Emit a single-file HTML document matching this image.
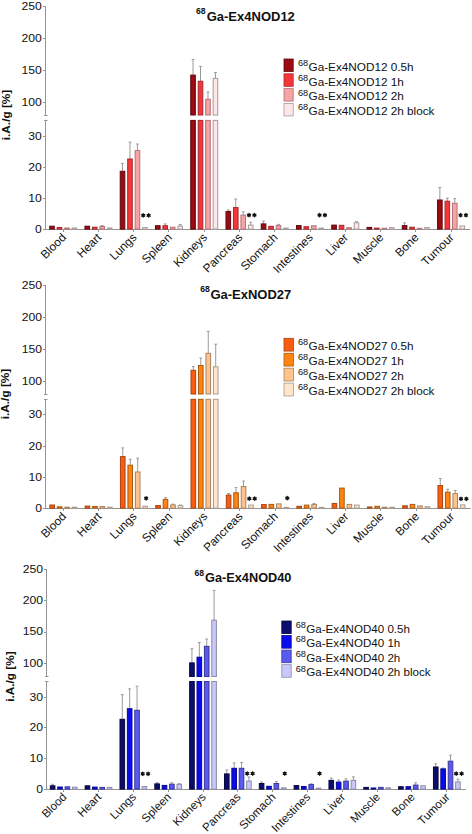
<!DOCTYPE html>
<html><head><meta charset="utf-8"><title>chart</title>
<style>
html,body{margin:0;padding:0;background:#fff;}
body{width:472px;height:834px;overflow:hidden;}
svg{display:block;}
text{font-family:"Liberation Sans", sans-serif;fill:#111;}
.tk{font-size:11.6px;}
.xl{font-size:11.8px;}
.st{font-size:13px;font-weight:bold;}
.ti{font-size:13px;font-weight:bold;}
.tsup{font-size:8.6px;font-weight:bold;}
.lg{font-size:11.2px;}
.lsup{font-size:9.6px;}
.yl{font-size:11.8px;font-weight:bold;}
</style></head>
<body>
<svg width="472" height="834" viewBox="0 0 472 834">
<rect width="472" height="834" fill="#fff"/>
<line x1="45.5" y1="6" x2="45.5" y2="115.5" stroke="#959595" stroke-width="1"/>
<line x1="45.5" y1="120.5" x2="45.5" y2="229.5" stroke="#959595" stroke-width="1"/>
<line x1="44" y1="115.5" x2="47.5" y2="115.5" stroke="#959595" stroke-width="1"/>
<line x1="44" y1="120.5" x2="47.5" y2="120.5" stroke="#959595" stroke-width="1"/>
<line x1="43" y1="102.5" x2="45.5" y2="102.5" stroke="#959595" stroke-width="1"/>
<text transform="translate(41.8 105.6) scale(1.05 1)" text-anchor="end" class="tk">100</text>
<line x1="43" y1="70.5" x2="45.5" y2="70.5" stroke="#959595" stroke-width="1"/>
<text transform="translate(41.8 73.73) scale(1.05 1)" text-anchor="end" class="tk">150</text>
<line x1="43" y1="38.5" x2="45.5" y2="38.5" stroke="#959595" stroke-width="1"/>
<text transform="translate(41.8 41.87) scale(1.05 1)" text-anchor="end" class="tk">200</text>
<line x1="43" y1="6.5" x2="45.5" y2="6.5" stroke="#959595" stroke-width="1"/>
<text transform="translate(41.8 10) scale(1.05 1)" text-anchor="end" class="tk">250</text>
<line x1="43" y1="229.5" x2="45.5" y2="229.5" stroke="#959595" stroke-width="1"/>
<text transform="translate(41.8 232.5) scale(1.05 1)" text-anchor="end" class="tk">0</text>
<line x1="43" y1="198.5" x2="45.5" y2="198.5" stroke="#959595" stroke-width="1"/>
<text transform="translate(41.8 201.6) scale(1.05 1)" text-anchor="end" class="tk">10</text>
<line x1="43" y1="167.5" x2="45.5" y2="167.5" stroke="#959595" stroke-width="1"/>
<text transform="translate(41.8 170.7) scale(1.05 1)" text-anchor="end" class="tk">20</text>
<line x1="43" y1="136.5" x2="45.5" y2="136.5" stroke="#959595" stroke-width="1"/>
<text transform="translate(41.8 139.8) scale(1.05 1)" text-anchor="end" class="tk">30</text>
<line x1="45" y1="229.5" x2="470" y2="229.5" stroke="#959595" stroke-width="1"/>
<line x1="63.5" y1="229.5" x2="63.5" y2="232" stroke="#959595" stroke-width="1"/>
<text x="66.8" y="238.1" text-anchor="end" class="xl" style="font-size:11.8px" transform="rotate(-45 66.8 238.1)">Blood</text>
<line x1="98.5" y1="229.5" x2="98.5" y2="232" stroke="#959595" stroke-width="1"/>
<text x="102.06" y="238.1" text-anchor="end" class="xl" style="font-size:11.8px" transform="rotate(-45 102.06 238.1)">Heart</text>
<line x1="133.5" y1="229.5" x2="133.5" y2="232" stroke="#959595" stroke-width="1"/>
<text x="137.32" y="238.1" text-anchor="end" class="xl" style="font-size:11.8px" transform="rotate(-45 137.32 238.1)">Lungs</text>
<line x1="168.5" y1="229.5" x2="168.5" y2="232" stroke="#959595" stroke-width="1"/>
<text x="172.58" y="238.1" text-anchor="end" class="xl" style="font-size:11.8px" transform="rotate(-45 172.58 238.1)">Spleen</text>
<line x1="204.5" y1="229.5" x2="204.5" y2="232" stroke="#959595" stroke-width="1"/>
<text x="207.84" y="238.1" text-anchor="end" class="xl" style="font-size:11.8px" transform="rotate(-45 207.84 238.1)">Kidneys</text>
<line x1="239.5" y1="229.5" x2="239.5" y2="232" stroke="#959595" stroke-width="1"/>
<text x="243.1" y="238.1" text-anchor="end" class="xl" style="font-size:11.8px" transform="rotate(-45 243.1 238.1)">Pancreas</text>
<line x1="274.5" y1="229.5" x2="274.5" y2="232" stroke="#959595" stroke-width="1"/>
<text x="278.36" y="238.1" text-anchor="end" class="xl" style="font-size:11.8px" transform="rotate(-45 278.36 238.1)">Stomach</text>
<line x1="310.5" y1="229.5" x2="310.5" y2="232" stroke="#959595" stroke-width="1"/>
<text x="313.62" y="238.1" text-anchor="end" class="xl" style="font-size:11.8px" transform="rotate(-45 313.62 238.1)">Intestines</text>
<line x1="345.5" y1="229.5" x2="345.5" y2="232" stroke="#959595" stroke-width="1"/>
<text x="348.88" y="238.1" text-anchor="end" class="xl" style="font-size:11.8px" transform="rotate(-45 348.88 238.1)">Liver</text>
<line x1="380.5" y1="229.5" x2="380.5" y2="232" stroke="#959595" stroke-width="1"/>
<text x="384.14" y="238.1" text-anchor="end" class="xl" style="font-size:11.8px" transform="rotate(-45 384.14 238.1)">Muscle</text>
<line x1="415.5" y1="229.5" x2="415.5" y2="232" stroke="#959595" stroke-width="1"/>
<text x="419.4" y="238.1" text-anchor="end" class="xl" style="font-size:11.8px" transform="rotate(-45 419.4 238.1)">Bone</text>
<line x1="451.5" y1="229.5" x2="451.5" y2="232" stroke="#959595" stroke-width="1"/>
<text x="454.66" y="238.1" text-anchor="end" class="xl" style="font-size:11.8px" transform="rotate(-45 454.66 238.1)">Tumour</text>
<rect x="49.7" y="226.2" width="4.6" height="2.9" fill="#9c0a12" stroke="#5e080c" stroke-width="1.0"/>
<rect x="57.17" y="227.5" width="4.6" height="1.6" fill="#f4363b" stroke="#a8282a" stroke-width="1.0"/>
<rect x="64.64" y="228" width="4.6" height="1.1" fill="#f7a2a4" stroke="#b07577" stroke-width="1.0"/>
<rect x="72.11" y="228" width="4.6" height="1.1" fill="#fde6e8" stroke="#a89a9b" stroke-width="1.0"/>
<rect x="84.96" y="226.2" width="4.6" height="2.9" fill="#9c0a12" stroke="#5e080c" stroke-width="1.0"/>
<rect x="92.43" y="227.2" width="4.6" height="1.9" fill="#f4363b" stroke="#a8282a" stroke-width="1.0"/>
<line x1="102.2" y1="225.5" x2="102.2" y2="226.5" stroke="#9a9a9a" stroke-width="1"/>
<line x1="100.8" y1="225.5" x2="103.6" y2="225.5" stroke="#9a9a9a" stroke-width="1"/>
<rect x="99.9" y="226.5" width="4.6" height="2.6" fill="#f7a2a4" stroke="#b07577" stroke-width="1.0"/>
<rect x="107.37" y="228" width="4.6" height="1.1" fill="#fde6e8" stroke="#a89a9b" stroke-width="1.0"/>
<line x1="122.52" y1="163.4" x2="122.52" y2="171.3" stroke="#9a9a9a" stroke-width="1"/>
<line x1="121.11" y1="163.4" x2="123.92" y2="163.4" stroke="#9a9a9a" stroke-width="1"/>
<rect x="120.22" y="171.3" width="4.6" height="57.8" fill="#9c0a12" stroke="#5e080c" stroke-width="1.0"/>
<line x1="129.98" y1="142.2" x2="129.98" y2="159" stroke="#9a9a9a" stroke-width="1"/>
<line x1="128.58" y1="142.2" x2="131.38" y2="142.2" stroke="#9a9a9a" stroke-width="1"/>
<rect x="127.68" y="159" width="4.6" height="70.1" fill="#f4363b" stroke="#a8282a" stroke-width="1.0"/>
<line x1="137.46" y1="144" x2="137.46" y2="150.5" stroke="#9a9a9a" stroke-width="1"/>
<line x1="136.06" y1="144" x2="138.86" y2="144" stroke="#9a9a9a" stroke-width="1"/>
<rect x="135.16" y="150.5" width="4.6" height="78.6" fill="#f7a2a4" stroke="#b07577" stroke-width="1.0"/>
<rect x="142.62" y="227.6" width="4.6" height="1.5" fill="#fde6e8" stroke="#a89a9b" stroke-width="1.0"/>
<rect x="155.47" y="225.7" width="4.6" height="3.4" fill="#9c0a12" stroke="#5e080c" stroke-width="1.0"/>
<line x1="165.25" y1="223.9" x2="165.25" y2="225.7" stroke="#9a9a9a" stroke-width="1"/>
<line x1="163.84" y1="223.9" x2="166.65" y2="223.9" stroke="#9a9a9a" stroke-width="1"/>
<rect x="162.94" y="225.7" width="4.6" height="3.4" fill="#f4363b" stroke="#a8282a" stroke-width="1.0"/>
<rect x="170.42" y="227.2" width="4.6" height="1.9" fill="#f7a2a4" stroke="#b07577" stroke-width="1.0"/>
<line x1="180.19" y1="224.5" x2="180.19" y2="226.1" stroke="#9a9a9a" stroke-width="1"/>
<line x1="178.79" y1="224.5" x2="181.59" y2="224.5" stroke="#9a9a9a" stroke-width="1"/>
<rect x="177.89" y="226.1" width="4.6" height="3" fill="#fde6e8" stroke="#a89a9b" stroke-width="1.0"/>
<line x1="193.03" y1="59.5" x2="193.03" y2="75.1" stroke="#9a9a9a" stroke-width="1"/>
<line x1="191.63" y1="59.5" x2="194.44" y2="59.5" stroke="#9a9a9a" stroke-width="1"/>
<rect x="190.73" y="120.4" width="4.6" height="108.7" fill="#9c0a12" stroke="#5e080c" stroke-width="1.0"/>
<rect x="190.73" y="75.1" width="4.6" height="39.9" fill="#9c0a12" stroke="#5e080c" stroke-width="1.0"/>
<line x1="200.5" y1="66.4" x2="200.5" y2="81.25" stroke="#9a9a9a" stroke-width="1"/>
<line x1="199.1" y1="66.4" x2="201.91" y2="66.4" stroke="#9a9a9a" stroke-width="1"/>
<rect x="198.2" y="120.4" width="4.6" height="108.7" fill="#f4363b" stroke="#a8282a" stroke-width="1.0"/>
<rect x="198.2" y="81.25" width="4.6" height="33.75" fill="#f4363b" stroke="#a8282a" stroke-width="1.0"/>
<line x1="207.98" y1="92" x2="207.98" y2="99.3" stroke="#9a9a9a" stroke-width="1"/>
<line x1="206.58" y1="92" x2="209.38" y2="92" stroke="#9a9a9a" stroke-width="1"/>
<rect x="205.68" y="120.4" width="4.6" height="108.7" fill="#f7a2a4" stroke="#b07577" stroke-width="1.0"/>
<rect x="205.68" y="99.3" width="4.6" height="15.7" fill="#f7a2a4" stroke="#b07577" stroke-width="1.0"/>
<line x1="215.45" y1="72.6" x2="215.45" y2="78.4" stroke="#9a9a9a" stroke-width="1"/>
<line x1="214.05" y1="72.6" x2="216.85" y2="72.6" stroke="#9a9a9a" stroke-width="1"/>
<rect x="213.15" y="120.4" width="4.6" height="108.7" fill="#fde6e8" stroke="#a89a9b" stroke-width="1.0"/>
<rect x="213.15" y="78.4" width="4.6" height="36.6" fill="#fde6e8" stroke="#a89a9b" stroke-width="1.0"/>
<line x1="228.29" y1="210" x2="228.29" y2="211.6" stroke="#9a9a9a" stroke-width="1"/>
<line x1="226.89" y1="210" x2="229.69" y2="210" stroke="#9a9a9a" stroke-width="1"/>
<rect x="225.99" y="211.6" width="4.6" height="17.5" fill="#9c0a12" stroke="#5e080c" stroke-width="1.0"/>
<line x1="235.76" y1="199" x2="235.76" y2="207.6" stroke="#9a9a9a" stroke-width="1"/>
<line x1="234.36" y1="199" x2="237.16" y2="199" stroke="#9a9a9a" stroke-width="1"/>
<rect x="233.46" y="207.6" width="4.6" height="21.5" fill="#f4363b" stroke="#a8282a" stroke-width="1.0"/>
<line x1="243.24" y1="211.8" x2="243.24" y2="215.1" stroke="#9a9a9a" stroke-width="1"/>
<line x1="241.84" y1="211.8" x2="244.64" y2="211.8" stroke="#9a9a9a" stroke-width="1"/>
<rect x="240.94" y="215.1" width="4.6" height="14" fill="#f7a2a4" stroke="#b07577" stroke-width="1.0"/>
<line x1="250.71" y1="222.3" x2="250.71" y2="225.1" stroke="#9a9a9a" stroke-width="1"/>
<line x1="249.31" y1="222.3" x2="252.11" y2="222.3" stroke="#9a9a9a" stroke-width="1"/>
<rect x="248.41" y="225.1" width="4.6" height="4" fill="#fde6e8" stroke="#a89a9b" stroke-width="1.0"/>
<line x1="263.56" y1="221.1" x2="263.56" y2="223.9" stroke="#9a9a9a" stroke-width="1"/>
<line x1="262.16" y1="221.1" x2="264.95" y2="221.1" stroke="#9a9a9a" stroke-width="1"/>
<rect x="261.25" y="223.9" width="4.6" height="5.2" fill="#9c0a12" stroke="#5e080c" stroke-width="1.0"/>
<rect x="268.72" y="226.3" width="4.6" height="2.8" fill="#f4363b" stroke="#a8282a" stroke-width="1.0"/>
<line x1="278.5" y1="224.4" x2="278.5" y2="225.6" stroke="#9a9a9a" stroke-width="1"/>
<line x1="277.1" y1="224.4" x2="279.89" y2="224.4" stroke="#9a9a9a" stroke-width="1"/>
<rect x="276.19" y="225.6" width="4.6" height="3.5" fill="#f7a2a4" stroke="#b07577" stroke-width="1.0"/>
<rect x="283.66" y="228.1" width="4.6" height="1" fill="#fde6e8" stroke="#a89a9b" stroke-width="1.0"/>
<rect x="296.51" y="225.6" width="4.6" height="3.5" fill="#9c0a12" stroke="#5e080c" stroke-width="1.0"/>
<rect x="303.98" y="226.7" width="4.6" height="2.4" fill="#f4363b" stroke="#a8282a" stroke-width="1.0"/>
<rect x="311.45" y="225.8" width="4.6" height="3.3" fill="#f7a2a4" stroke="#b07577" stroke-width="1.0"/>
<rect x="318.92" y="228.1" width="4.6" height="1" fill="#fde6e8" stroke="#a89a9b" stroke-width="1.0"/>
<rect x="331.77" y="225.1" width="4.6" height="4" fill="#9c0a12" stroke="#5e080c" stroke-width="1.0"/>
<rect x="339.24" y="225.3" width="4.6" height="3.8" fill="#f4363b" stroke="#a8282a" stroke-width="1.0"/>
<rect x="346.71" y="227.7" width="4.6" height="1.4" fill="#f7a2a4" stroke="#b07577" stroke-width="1.0"/>
<line x1="356.48" y1="221.6" x2="356.48" y2="222.8" stroke="#9a9a9a" stroke-width="1"/>
<line x1="355.08" y1="221.6" x2="357.88" y2="221.6" stroke="#9a9a9a" stroke-width="1"/>
<rect x="354.18" y="222.8" width="4.6" height="6.3" fill="#fde6e8" stroke="#a89a9b" stroke-width="1.0"/>
<rect x="367.03" y="227.4" width="4.6" height="1.7" fill="#9c0a12" stroke="#5e080c" stroke-width="1.0"/>
<rect x="374.5" y="228.1" width="4.6" height="1" fill="#f4363b" stroke="#a8282a" stroke-width="1.0"/>
<rect x="381.97" y="228.3" width="4.6" height="0.8" fill="#f7a2a4" stroke="#b07577" stroke-width="1.0"/>
<rect x="389.44" y="227.6" width="4.6" height="1.5" fill="#fde6e8" stroke="#a89a9b" stroke-width="1.0"/>
<line x1="404.59" y1="222.8" x2="404.59" y2="225.6" stroke="#9a9a9a" stroke-width="1"/>
<line x1="403.19" y1="222.8" x2="405.99" y2="222.8" stroke="#9a9a9a" stroke-width="1"/>
<rect x="402.29" y="225.6" width="4.6" height="3.5" fill="#9c0a12" stroke="#5e080c" stroke-width="1.0"/>
<rect x="409.76" y="227.2" width="4.6" height="1.9" fill="#f4363b" stroke="#a8282a" stroke-width="1.0"/>
<rect x="417.23" y="228.3" width="4.6" height="0.8" fill="#f7a2a4" stroke="#b07577" stroke-width="1.0"/>
<rect x="424.7" y="227.6" width="4.6" height="1.5" fill="#fde6e8" stroke="#a89a9b" stroke-width="1.0"/>
<line x1="439.85" y1="187.5" x2="439.85" y2="200" stroke="#9a9a9a" stroke-width="1"/>
<line x1="438.45" y1="187.5" x2="441.25" y2="187.5" stroke="#9a9a9a" stroke-width="1"/>
<rect x="437.55" y="200" width="4.6" height="29.1" fill="#9c0a12" stroke="#5e080c" stroke-width="1.0"/>
<line x1="447.32" y1="198.1" x2="447.32" y2="201.2" stroke="#9a9a9a" stroke-width="1"/>
<line x1="445.92" y1="198.1" x2="448.72" y2="198.1" stroke="#9a9a9a" stroke-width="1"/>
<rect x="445.02" y="201.2" width="4.6" height="27.9" fill="#f4363b" stroke="#a8282a" stroke-width="1.0"/>
<line x1="454.79" y1="198.6" x2="454.79" y2="203.2" stroke="#9a9a9a" stroke-width="1"/>
<line x1="453.39" y1="198.6" x2="456.19" y2="198.6" stroke="#9a9a9a" stroke-width="1"/>
<rect x="452.49" y="203.2" width="4.6" height="25.9" fill="#f7a2a4" stroke="#b07577" stroke-width="1.0"/>
<rect x="459.96" y="226" width="4.6" height="3.1" fill="#fde6e8" stroke="#a89a9b" stroke-width="1.0"/>
<path d="M143.23 213.75L143.23 217.05M141.8 214.58L144.65 216.22M144.65 214.58L141.8 216.22" stroke="#111" stroke-width="1.4" stroke-linecap="round"/>
<path d="M148.62 213.75L148.62 217.05M147.2 214.58L150.05 216.22M150.05 214.58L147.2 216.22" stroke="#111" stroke-width="1.4" stroke-linecap="round"/>
<path d="M249.01 213.45L249.01 216.75M247.58 214.28L250.43 215.92M250.43 214.28L247.58 215.92" stroke="#111" stroke-width="1.4" stroke-linecap="round"/>
<path d="M254.41 213.45L254.41 216.75M252.98 214.28L255.83 215.92M255.83 214.28L252.98 215.92" stroke="#111" stroke-width="1.4" stroke-linecap="round"/>
<path d="M319.52 213.45L319.52 216.75M318.1 214.28L320.95 215.92M320.95 214.28L318.1 215.92" stroke="#111" stroke-width="1.4" stroke-linecap="round"/>
<path d="M324.92 213.45L324.92 216.75M323.5 214.28L326.35 215.92M326.35 214.28L323.5 215.92" stroke="#111" stroke-width="1.4" stroke-linecap="round"/>
<path d="M460.56 213.55L460.56 216.85M459.14 214.38L461.99 216.02M461.99 214.38L459.14 216.02" stroke="#111" stroke-width="1.4" stroke-linecap="round"/>
<path d="M465.96 213.55L465.96 216.85M464.54 214.38L467.39 216.02M467.39 214.38L464.54 216.02" stroke="#111" stroke-width="1.4" stroke-linecap="round"/>
<text x="196.1" y="13.8" class="tsup">68</text>
<text x="206.7" y="21" class="ti" style="font-size:13px">Ga-Ex4NOD12</text>
<rect x="284" y="59" width="9.2" height="12.5" fill="#9c0a12" stroke="#5e080c" stroke-width="0.8"/>
<text transform="translate(297.9 65.9) scale(0.96 1)" class="lsup">68</text>
<text transform="translate(308.5 70.8) scale(1.05 1)" class="lg" style="font-size:11.2px">Ga-Ex4NOD12 0.5h</text>
<rect x="284" y="73.8" width="9.2" height="12.5" fill="#f4363b" stroke="#a8282a" stroke-width="0.8"/>
<text transform="translate(297.9 80.7) scale(0.96 1)" class="lsup">68</text>
<text transform="translate(308.5 85.6) scale(1.05 1)" class="lg" style="font-size:11.2px">Ga-Ex4NOD12 1h</text>
<rect x="284" y="88.6" width="9.2" height="12.5" fill="#f7a2a4" stroke="#b07577" stroke-width="0.8"/>
<text transform="translate(297.9 95.5) scale(0.96 1)" class="lsup">68</text>
<text transform="translate(308.5 100.4) scale(1.05 1)" class="lg" style="font-size:11.2px">Ga-Ex4NOD12 2h</text>
<rect x="284" y="103.4" width="9.2" height="12.5" fill="#fde6e8" stroke="#a89a9b" stroke-width="0.8"/>
<text transform="translate(297.9 110.3) scale(0.96 1)" class="lsup">68</text>
<text transform="translate(308.5 115.2) scale(1.05 1)" class="lg" style="font-size:11.2px">Ga-Ex4NOD12 2h block</text>
<text x="9.6" y="115" text-anchor="middle" class="yl" transform="rotate(-90 9.6 115)">i.A./g [%]</text>
<line x1="45.5" y1="285" x2="45.5" y2="394.5" stroke="#959595" stroke-width="1"/>
<line x1="45.5" y1="399.5" x2="45.5" y2="508.5" stroke="#959595" stroke-width="1"/>
<line x1="44" y1="394.5" x2="47.5" y2="394.5" stroke="#959595" stroke-width="1"/>
<line x1="44" y1="399.5" x2="47.5" y2="399.5" stroke="#959595" stroke-width="1"/>
<line x1="43" y1="381.5" x2="45.5" y2="381.5" stroke="#959595" stroke-width="1"/>
<text transform="translate(42 384.9) scale(1.05 1)" text-anchor="end" class="tk">100</text>
<line x1="43" y1="349.5" x2="45.5" y2="349.5" stroke="#959595" stroke-width="1"/>
<text transform="translate(42 352.93) scale(1.05 1)" text-anchor="end" class="tk">150</text>
<line x1="43" y1="317.5" x2="45.5" y2="317.5" stroke="#959595" stroke-width="1"/>
<text transform="translate(42 320.97) scale(1.05 1)" text-anchor="end" class="tk">200</text>
<line x1="43" y1="285.5" x2="45.5" y2="285.5" stroke="#959595" stroke-width="1"/>
<text transform="translate(42 289) scale(1.05 1)" text-anchor="end" class="tk">250</text>
<line x1="43" y1="508.5" x2="45.5" y2="508.5" stroke="#959595" stroke-width="1"/>
<text transform="translate(42 511.5) scale(1.05 1)" text-anchor="end" class="tk">0</text>
<line x1="43" y1="477.5" x2="45.5" y2="477.5" stroke="#959595" stroke-width="1"/>
<text transform="translate(42 480.5) scale(1.05 1)" text-anchor="end" class="tk">10</text>
<line x1="43" y1="446.5" x2="45.5" y2="446.5" stroke="#959595" stroke-width="1"/>
<text transform="translate(42 449.5) scale(1.05 1)" text-anchor="end" class="tk">20</text>
<line x1="43" y1="414.5" x2="45.5" y2="414.5" stroke="#959595" stroke-width="1"/>
<text transform="translate(42 417.8) scale(1.05 1)" text-anchor="end" class="tk">30</text>
<line x1="45" y1="508.5" x2="470.7" y2="508.5" stroke="#959595" stroke-width="1"/>
<line x1="63.5" y1="508.5" x2="63.5" y2="511" stroke="#959595" stroke-width="1"/>
<text x="67" y="517.1" text-anchor="end" class="xl" style="font-size:11.8px" transform="rotate(-45 67 517.1)">Blood</text>
<line x1="98.5" y1="508.5" x2="98.5" y2="511" stroke="#959595" stroke-width="1"/>
<text x="102.28" y="517.1" text-anchor="end" class="xl" style="font-size:11.8px" transform="rotate(-45 102.28 517.1)">Heart</text>
<line x1="133.5" y1="508.5" x2="133.5" y2="511" stroke="#959595" stroke-width="1"/>
<text x="137.56" y="517.1" text-anchor="end" class="xl" style="font-size:11.8px" transform="rotate(-45 137.56 517.1)">Lungs</text>
<line x1="169.5" y1="508.5" x2="169.5" y2="511" stroke="#959595" stroke-width="1"/>
<text x="172.84" y="517.1" text-anchor="end" class="xl" style="font-size:11.8px" transform="rotate(-45 172.84 517.1)">Spleen</text>
<line x1="204.5" y1="508.5" x2="204.5" y2="511" stroke="#959595" stroke-width="1"/>
<text x="208.12" y="517.1" text-anchor="end" class="xl" style="font-size:11.8px" transform="rotate(-45 208.12 517.1)">Kidneys</text>
<line x1="239.5" y1="508.5" x2="239.5" y2="511" stroke="#959595" stroke-width="1"/>
<text x="243.4" y="517.1" text-anchor="end" class="xl" style="font-size:11.8px" transform="rotate(-45 243.4 517.1)">Pancreas</text>
<line x1="275.5" y1="508.5" x2="275.5" y2="511" stroke="#959595" stroke-width="1"/>
<text x="278.68" y="517.1" text-anchor="end" class="xl" style="font-size:11.8px" transform="rotate(-45 278.68 517.1)">Stomach</text>
<line x1="310.5" y1="508.5" x2="310.5" y2="511" stroke="#959595" stroke-width="1"/>
<text x="313.96" y="517.1" text-anchor="end" class="xl" style="font-size:11.8px" transform="rotate(-45 313.96 517.1)">Intestines</text>
<line x1="345.5" y1="508.5" x2="345.5" y2="511" stroke="#959595" stroke-width="1"/>
<text x="349.24" y="517.1" text-anchor="end" class="xl" style="font-size:11.8px" transform="rotate(-45 349.24 517.1)">Liver</text>
<line x1="380.5" y1="508.5" x2="380.5" y2="511" stroke="#959595" stroke-width="1"/>
<text x="384.52" y="517.1" text-anchor="end" class="xl" style="font-size:11.8px" transform="rotate(-45 384.52 517.1)">Muscle</text>
<line x1="416.5" y1="508.5" x2="416.5" y2="511" stroke="#959595" stroke-width="1"/>
<text x="419.8" y="517.1" text-anchor="end" class="xl" style="font-size:11.8px" transform="rotate(-45 419.8 517.1)">Bone</text>
<line x1="451.5" y1="508.5" x2="451.5" y2="511" stroke="#959595" stroke-width="1"/>
<text x="455.08" y="517.1" text-anchor="end" class="xl" style="font-size:11.8px" transform="rotate(-45 455.08 517.1)">Tumour</text>
<rect x="49.89" y="505" width="4.6" height="3.1" fill="#fa5c10" stroke="#a84410" stroke-width="1.0"/>
<rect x="57.36" y="506.8" width="4.6" height="1.3" fill="#ff8412" stroke="#a85a10" stroke-width="1.0"/>
<rect x="64.84" y="507.2" width="4.6" height="0.9" fill="#ffc48e" stroke="#a88462" stroke-width="1.0"/>
<rect x="72.31" y="507.2" width="4.6" height="0.9" fill="#ffe5cd" stroke="#a89c8c" stroke-width="1.0"/>
<rect x="85.17" y="506.1" width="4.6" height="2" fill="#fa5c10" stroke="#a84410" stroke-width="1.0"/>
<rect x="92.64" y="506.5" width="4.6" height="1.6" fill="#ff8412" stroke="#a85a10" stroke-width="1.0"/>
<rect x="100.12" y="506.5" width="4.6" height="1.6" fill="#ffc48e" stroke="#a88462" stroke-width="1.0"/>
<rect x="107.59" y="507.2" width="4.6" height="0.9" fill="#ffe5cd" stroke="#a89c8c" stroke-width="1.0"/>
<line x1="122.75" y1="447.9" x2="122.75" y2="456.6" stroke="#9a9a9a" stroke-width="1"/>
<line x1="121.35" y1="447.9" x2="124.15" y2="447.9" stroke="#9a9a9a" stroke-width="1"/>
<rect x="120.45" y="456.6" width="4.6" height="51.5" fill="#fa5c10" stroke="#a84410" stroke-width="1.0"/>
<line x1="130.22" y1="459.3" x2="130.22" y2="465.2" stroke="#9a9a9a" stroke-width="1"/>
<line x1="128.82" y1="459.3" x2="131.62" y2="459.3" stroke="#9a9a9a" stroke-width="1"/>
<rect x="127.92" y="465.2" width="4.6" height="42.9" fill="#ff8412" stroke="#a85a10" stroke-width="1.0"/>
<line x1="137.7" y1="458.2" x2="137.7" y2="472" stroke="#9a9a9a" stroke-width="1"/>
<line x1="136.3" y1="458.2" x2="139.1" y2="458.2" stroke="#9a9a9a" stroke-width="1"/>
<rect x="135.4" y="472" width="4.6" height="36.1" fill="#ffc48e" stroke="#a88462" stroke-width="1.0"/>
<rect x="142.87" y="506.2" width="4.6" height="1.9" fill="#ffe5cd" stroke="#a89c8c" stroke-width="1.0"/>
<rect x="155.73" y="505.6" width="4.6" height="2.5" fill="#fa5c10" stroke="#a84410" stroke-width="1.0"/>
<line x1="165.5" y1="497.7" x2="165.5" y2="499.4" stroke="#9a9a9a" stroke-width="1"/>
<line x1="164.1" y1="497.7" x2="166.9" y2="497.7" stroke="#9a9a9a" stroke-width="1"/>
<rect x="163.2" y="499.4" width="4.6" height="8.7" fill="#ff8412" stroke="#a85a10" stroke-width="1.0"/>
<line x1="172.98" y1="504.1" x2="172.98" y2="504.9" stroke="#9a9a9a" stroke-width="1"/>
<line x1="171.58" y1="504.1" x2="174.38" y2="504.1" stroke="#9a9a9a" stroke-width="1"/>
<rect x="170.68" y="504.9" width="4.6" height="3.2" fill="#ffc48e" stroke="#a88462" stroke-width="1.0"/>
<line x1="180.45" y1="505" x2="180.45" y2="505.6" stroke="#9a9a9a" stroke-width="1"/>
<line x1="179.05" y1="505" x2="181.85" y2="505" stroke="#9a9a9a" stroke-width="1"/>
<rect x="178.15" y="505.6" width="4.6" height="2.5" fill="#ffe5cd" stroke="#a89c8c" stroke-width="1.0"/>
<line x1="193.31" y1="366.6" x2="193.31" y2="370.3" stroke="#9a9a9a" stroke-width="1"/>
<line x1="191.91" y1="366.6" x2="194.71" y2="366.6" stroke="#9a9a9a" stroke-width="1"/>
<rect x="191.01" y="399.3" width="4.6" height="108.8" fill="#fa5c10" stroke="#a84410" stroke-width="1.0"/>
<rect x="191.01" y="370.3" width="4.6" height="23.7" fill="#fa5c10" stroke="#a84410" stroke-width="1.0"/>
<line x1="200.78" y1="358" x2="200.78" y2="365.5" stroke="#9a9a9a" stroke-width="1"/>
<line x1="199.38" y1="358" x2="202.18" y2="358" stroke="#9a9a9a" stroke-width="1"/>
<rect x="198.48" y="399.3" width="4.6" height="108.8" fill="#ff8412" stroke="#a85a10" stroke-width="1.0"/>
<rect x="198.48" y="365.5" width="4.6" height="28.5" fill="#ff8412" stroke="#a85a10" stroke-width="1.0"/>
<line x1="208.26" y1="331.4" x2="208.26" y2="353.3" stroke="#9a9a9a" stroke-width="1"/>
<line x1="206.86" y1="331.4" x2="209.66" y2="331.4" stroke="#9a9a9a" stroke-width="1"/>
<rect x="205.96" y="399.3" width="4.6" height="108.8" fill="#ffc48e" stroke="#a88462" stroke-width="1.0"/>
<rect x="205.96" y="353.3" width="4.6" height="40.7" fill="#ffc48e" stroke="#a88462" stroke-width="1.0"/>
<line x1="215.73" y1="344.2" x2="215.73" y2="366.8" stroke="#9a9a9a" stroke-width="1"/>
<line x1="214.33" y1="344.2" x2="217.13" y2="344.2" stroke="#9a9a9a" stroke-width="1"/>
<rect x="213.43" y="399.3" width="4.6" height="108.8" fill="#ffe5cd" stroke="#a89c8c" stroke-width="1.0"/>
<rect x="213.43" y="366.8" width="4.6" height="27.2" fill="#ffe5cd" stroke="#a89c8c" stroke-width="1.0"/>
<line x1="228.59" y1="493.5" x2="228.59" y2="495.1" stroke="#9a9a9a" stroke-width="1"/>
<line x1="227.19" y1="493.5" x2="229.99" y2="493.5" stroke="#9a9a9a" stroke-width="1"/>
<rect x="226.29" y="495.1" width="4.6" height="13" fill="#fa5c10" stroke="#a84410" stroke-width="1.0"/>
<line x1="236.06" y1="487.6" x2="236.06" y2="492.8" stroke="#9a9a9a" stroke-width="1"/>
<line x1="234.66" y1="487.6" x2="237.46" y2="487.6" stroke="#9a9a9a" stroke-width="1"/>
<rect x="233.76" y="492.8" width="4.6" height="15.3" fill="#ff8412" stroke="#a85a10" stroke-width="1.0"/>
<line x1="243.54" y1="481.1" x2="243.54" y2="486.5" stroke="#9a9a9a" stroke-width="1"/>
<line x1="242.14" y1="481.1" x2="244.94" y2="481.1" stroke="#9a9a9a" stroke-width="1"/>
<rect x="241.24" y="486.5" width="4.6" height="21.6" fill="#ffc48e" stroke="#a88462" stroke-width="1.0"/>
<rect x="248.71" y="505.1" width="4.6" height="3" fill="#ffe5cd" stroke="#a89c8c" stroke-width="1.0"/>
<rect x="261.57" y="504.6" width="4.6" height="3.5" fill="#fa5c10" stroke="#a84410" stroke-width="1.0"/>
<rect x="269.04" y="504.4" width="4.6" height="3.7" fill="#ff8412" stroke="#a85a10" stroke-width="1.0"/>
<rect x="276.52" y="503.9" width="4.6" height="4.2" fill="#ffc48e" stroke="#a88462" stroke-width="1.0"/>
<rect x="283.99" y="507.4" width="4.6" height="0.7" fill="#ffe5cd" stroke="#a89c8c" stroke-width="1.0"/>
<rect x="296.85" y="506.3" width="4.6" height="1.8" fill="#fa5c10" stroke="#a84410" stroke-width="1.0"/>
<rect x="304.32" y="505.1" width="4.6" height="3" fill="#ff8412" stroke="#a85a10" stroke-width="1.0"/>
<line x1="314.1" y1="503.6" x2="314.1" y2="504.4" stroke="#9a9a9a" stroke-width="1"/>
<line x1="312.7" y1="503.6" x2="315.5" y2="503.6" stroke="#9a9a9a" stroke-width="1"/>
<rect x="311.8" y="504.4" width="4.6" height="3.7" fill="#ffc48e" stroke="#a88462" stroke-width="1.0"/>
<rect x="319.27" y="507.4" width="4.6" height="0.7" fill="#ffe5cd" stroke="#a89c8c" stroke-width="1.0"/>
<rect x="332.13" y="503.5" width="4.6" height="4.6" fill="#fa5c10" stroke="#a84410" stroke-width="1.0"/>
<rect x="339.6" y="488.1" width="4.6" height="20" fill="#ff8412" stroke="#a85a10" stroke-width="1.0"/>
<rect x="347.08" y="504.4" width="4.6" height="3.7" fill="#ffc48e" stroke="#a88462" stroke-width="1.0"/>
<rect x="354.55" y="505.1" width="4.6" height="3" fill="#ffe5cd" stroke="#a89c8c" stroke-width="1.0"/>
<rect x="367.41" y="507" width="4.6" height="1.1" fill="#fa5c10" stroke="#a84410" stroke-width="1.0"/>
<rect x="374.88" y="506.3" width="4.6" height="1.8" fill="#ff8412" stroke="#a85a10" stroke-width="1.0"/>
<rect x="382.36" y="507.2" width="4.6" height="0.9" fill="#ffc48e" stroke="#a88462" stroke-width="1.0"/>
<rect x="389.83" y="507.2" width="4.6" height="0.9" fill="#ffe5cd" stroke="#a89c8c" stroke-width="1.0"/>
<rect x="402.69" y="505.8" width="4.6" height="2.3" fill="#fa5c10" stroke="#a84410" stroke-width="1.0"/>
<rect x="410.16" y="504.4" width="4.6" height="3.7" fill="#ff8412" stroke="#a85a10" stroke-width="1.0"/>
<rect x="417.64" y="505.9" width="4.6" height="2.2" fill="#ffc48e" stroke="#a88462" stroke-width="1.0"/>
<rect x="425.11" y="506.7" width="4.6" height="1.4" fill="#ffe5cd" stroke="#a89c8c" stroke-width="1.0"/>
<line x1="440.27" y1="478.5" x2="440.27" y2="485.6" stroke="#9a9a9a" stroke-width="1"/>
<line x1="438.87" y1="478.5" x2="441.67" y2="478.5" stroke="#9a9a9a" stroke-width="1"/>
<rect x="437.97" y="485.6" width="4.6" height="22.5" fill="#fa5c10" stroke="#a84410" stroke-width="1.0"/>
<line x1="447.74" y1="489.2" x2="447.74" y2="492.2" stroke="#9a9a9a" stroke-width="1"/>
<line x1="446.34" y1="489.2" x2="449.14" y2="489.2" stroke="#9a9a9a" stroke-width="1"/>
<rect x="445.44" y="492.2" width="4.6" height="15.9" fill="#ff8412" stroke="#a85a10" stroke-width="1.0"/>
<line x1="455.22" y1="490.5" x2="455.22" y2="493.6" stroke="#9a9a9a" stroke-width="1"/>
<line x1="453.82" y1="490.5" x2="456.62" y2="490.5" stroke="#9a9a9a" stroke-width="1"/>
<rect x="452.92" y="493.6" width="4.6" height="14.5" fill="#ffc48e" stroke="#a88462" stroke-width="1.0"/>
<rect x="460.39" y="504.9" width="4.6" height="3.2" fill="#ffe5cd" stroke="#a89c8c" stroke-width="1.0"/>
<path d="M146.17 496.65L146.17 499.95M144.74 497.48L147.6 499.12M147.6 497.48L144.74 499.12" stroke="#111" stroke-width="1.4" stroke-linecap="round"/>
<path d="M249.31 496.95L249.31 500.25M247.88 497.78L250.74 499.43M250.74 497.78L247.88 499.43" stroke="#111" stroke-width="1.4" stroke-linecap="round"/>
<path d="M254.71 496.95L254.71 500.25M253.28 497.78L256.14 499.43M256.14 497.78L253.28 499.43" stroke="#111" stroke-width="1.4" stroke-linecap="round"/>
<path d="M287.29 496.45L287.29 499.75M285.86 497.28L288.72 498.93M288.72 497.28L285.86 498.93" stroke="#111" stroke-width="1.4" stroke-linecap="round"/>
<path d="M460.99 497.15L460.99 500.45M459.56 497.98L462.42 499.62M462.42 497.98L459.56 499.62" stroke="#111" stroke-width="1.4" stroke-linecap="round"/>
<path d="M466.39 497.15L466.39 500.45M464.96 497.98L467.82 499.62M467.82 497.98L464.96 499.62" stroke="#111" stroke-width="1.4" stroke-linecap="round"/>
<text x="200.3" y="291.7" class="tsup">68</text>
<text x="210.4" y="298.9" class="ti" style="font-size:13px">Ga-ExNOD27</text>
<rect x="284" y="338.3" width="9.4" height="12.8" fill="#fa5c10" stroke="#a84410" stroke-width="0.8"/>
<text transform="translate(297.9 345.2) scale(0.96 1)" class="lsup">68</text>
<text transform="translate(308.5 350.1) scale(1.05 1)" class="lg" style="font-size:11.2px">Ga-Ex4NOD27 0.5h</text>
<rect x="284" y="353.25" width="9.4" height="12.8" fill="#ff8412" stroke="#a85a10" stroke-width="0.8"/>
<text transform="translate(297.9 360.15) scale(0.96 1)" class="lsup">68</text>
<text transform="translate(308.5 365.05) scale(1.05 1)" class="lg" style="font-size:11.2px">Ga-Ex4NOD27 1h</text>
<rect x="284" y="368.2" width="9.4" height="12.8" fill="#ffc48e" stroke="#a88462" stroke-width="0.8"/>
<text transform="translate(297.9 375.1) scale(0.96 1)" class="lsup">68</text>
<text transform="translate(308.5 380) scale(1.05 1)" class="lg" style="font-size:11.2px">Ga-Ex4NOD27 2h</text>
<rect x="284" y="383.15" width="9.4" height="12.8" fill="#ffe5cd" stroke="#a89c8c" stroke-width="0.8"/>
<text transform="translate(297.9 390.05) scale(0.96 1)" class="lsup">68</text>
<text transform="translate(308.5 394.95) scale(1.05 1)" class="lg" style="font-size:11.2px">Ga-Ex4NOD27 2h block</text>
<text x="9" y="394" text-anchor="middle" class="yl" transform="rotate(-90 9 394)">i.A./g [%]</text>
<line x1="46.5" y1="569" x2="46.5" y2="676.5" stroke="#959595" stroke-width="1"/>
<line x1="46.5" y1="681.5" x2="46.5" y2="789.5" stroke="#959595" stroke-width="1"/>
<line x1="45" y1="676.5" x2="48.5" y2="676.5" stroke="#959595" stroke-width="1"/>
<line x1="45" y1="681.5" x2="48.5" y2="681.5" stroke="#959595" stroke-width="1"/>
<line x1="44" y1="663.5" x2="46.5" y2="663.5" stroke="#959595" stroke-width="1"/>
<text transform="translate(43 666.7) scale(1.05 1)" text-anchor="end" class="tk">100</text>
<line x1="44" y1="632.5" x2="46.5" y2="632.5" stroke="#959595" stroke-width="1"/>
<text transform="translate(43 635.43) scale(1.05 1)" text-anchor="end" class="tk">150</text>
<line x1="44" y1="600.5" x2="46.5" y2="600.5" stroke="#959595" stroke-width="1"/>
<text transform="translate(43 604.17) scale(1.05 1)" text-anchor="end" class="tk">200</text>
<line x1="44" y1="569.5" x2="46.5" y2="569.5" stroke="#959595" stroke-width="1"/>
<text transform="translate(43 572.9) scale(1.05 1)" text-anchor="end" class="tk">250</text>
<line x1="44" y1="789.5" x2="46.5" y2="789.5" stroke="#959595" stroke-width="1"/>
<text transform="translate(43 792.5) scale(1.05 1)" text-anchor="end" class="tk">0</text>
<line x1="44" y1="758.5" x2="46.5" y2="758.5" stroke="#959595" stroke-width="1"/>
<text transform="translate(43 761.9) scale(1.05 1)" text-anchor="end" class="tk">10</text>
<line x1="44" y1="727.5" x2="46.5" y2="727.5" stroke="#959595" stroke-width="1"/>
<text transform="translate(43 731.3) scale(1.05 1)" text-anchor="end" class="tk">20</text>
<line x1="44" y1="697.5" x2="46.5" y2="697.5" stroke="#959595" stroke-width="1"/>
<text transform="translate(43 700.7) scale(1.05 1)" text-anchor="end" class="tk">30</text>
<line x1="46" y1="789.5" x2="465.7" y2="789.5" stroke="#959595" stroke-width="1"/>
<line x1="63.5" y1="789.5" x2="63.5" y2="792" stroke="#959595" stroke-width="1"/>
<text x="67.3" y="797.7" text-anchor="end" class="xl" style="font-size:11.55px" transform="rotate(-45 67.3 797.7)">Blood</text>
<line x1="98.5" y1="789.5" x2="98.5" y2="792" stroke="#959595" stroke-width="1"/>
<text x="102.13" y="797.7" text-anchor="end" class="xl" style="font-size:11.55px" transform="rotate(-45 102.13 797.7)">Heart</text>
<line x1="133.5" y1="789.5" x2="133.5" y2="792" stroke="#959595" stroke-width="1"/>
<text x="136.96" y="797.7" text-anchor="end" class="xl" style="font-size:11.55px" transform="rotate(-45 136.96 797.7)">Lungs</text>
<line x1="168.5" y1="789.5" x2="168.5" y2="792" stroke="#959595" stroke-width="1"/>
<text x="171.79" y="797.7" text-anchor="end" class="xl" style="font-size:11.55px" transform="rotate(-45 171.79 797.7)">Spleen</text>
<line x1="203.5" y1="789.5" x2="203.5" y2="792" stroke="#959595" stroke-width="1"/>
<text x="206.62" y="797.7" text-anchor="end" class="xl" style="font-size:11.55px" transform="rotate(-45 206.62 797.7)">Kidneys</text>
<line x1="237.5" y1="789.5" x2="237.5" y2="792" stroke="#959595" stroke-width="1"/>
<text x="241.45" y="797.7" text-anchor="end" class="xl" style="font-size:11.55px" transform="rotate(-45 241.45 797.7)">Pancreas</text>
<line x1="272.5" y1="789.5" x2="272.5" y2="792" stroke="#959595" stroke-width="1"/>
<text x="276.28" y="797.7" text-anchor="end" class="xl" style="font-size:11.55px" transform="rotate(-45 276.28 797.7)">Stomach</text>
<line x1="307.5" y1="789.5" x2="307.5" y2="792" stroke="#959595" stroke-width="1"/>
<text x="311.11" y="797.7" text-anchor="end" class="xl" style="font-size:11.55px" transform="rotate(-45 311.11 797.7)">Intestines</text>
<line x1="342.5" y1="789.5" x2="342.5" y2="792" stroke="#959595" stroke-width="1"/>
<text x="345.94" y="797.7" text-anchor="end" class="xl" style="font-size:11.55px" transform="rotate(-45 345.94 797.7)">Liver</text>
<line x1="377.5" y1="789.5" x2="377.5" y2="792" stroke="#959595" stroke-width="1"/>
<text x="380.77" y="797.7" text-anchor="end" class="xl" style="font-size:11.55px" transform="rotate(-45 380.77 797.7)">Muscle</text>
<line x1="411.5" y1="789.5" x2="411.5" y2="792" stroke="#959595" stroke-width="1"/>
<text x="415.6" y="797.7" text-anchor="end" class="xl" style="font-size:11.55px" transform="rotate(-45 415.6 797.7)">Bone</text>
<line x1="446.5" y1="789.5" x2="446.5" y2="792" stroke="#959595" stroke-width="1"/>
<text x="450.43" y="797.7" text-anchor="end" class="xl" style="font-size:11.55px" transform="rotate(-45 450.43 797.7)">Tumour</text>
<line x1="52.63" y1="784.3" x2="52.63" y2="785.8" stroke="#9a9a9a" stroke-width="1"/>
<line x1="51.23" y1="784.3" x2="54.03" y2="784.3" stroke="#9a9a9a" stroke-width="1"/>
<rect x="50.33" y="785.8" width="4.6" height="3.3" fill="#0d0d6e" stroke="#06063e" stroke-width="1.0"/>
<rect x="57.71" y="787" width="4.6" height="2.1" fill="#0b0bf0" stroke="#07078e" stroke-width="1.0"/>
<rect x="65.09" y="786.8" width="4.6" height="2.3" fill="#5a5af0" stroke="#38389a" stroke-width="1.0"/>
<rect x="72.47" y="787.2" width="4.6" height="1.9" fill="#c8c8fa" stroke="#8c8ca6" stroke-width="1.0"/>
<rect x="85.16" y="785.8" width="4.6" height="3.3" fill="#0d0d6e" stroke="#06063e" stroke-width="1.0"/>
<rect x="92.54" y="787.1" width="4.6" height="2" fill="#0b0bf0" stroke="#07078e" stroke-width="1.0"/>
<rect x="99.92" y="787.4" width="4.6" height="1.7" fill="#5a5af0" stroke="#38389a" stroke-width="1.0"/>
<rect x="107.3" y="787.4" width="4.6" height="1.7" fill="#c8c8fa" stroke="#8c8ca6" stroke-width="1.0"/>
<line x1="122.29" y1="694.6" x2="122.29" y2="719.3" stroke="#9a9a9a" stroke-width="1"/>
<line x1="120.89" y1="694.6" x2="123.69" y2="694.6" stroke="#9a9a9a" stroke-width="1"/>
<rect x="119.99" y="719.3" width="4.6" height="69.8" fill="#0d0d6e" stroke="#06063e" stroke-width="1.0"/>
<line x1="129.67" y1="688.9" x2="129.67" y2="708.7" stroke="#9a9a9a" stroke-width="1"/>
<line x1="128.27" y1="688.9" x2="131.07" y2="688.9" stroke="#9a9a9a" stroke-width="1"/>
<rect x="127.37" y="708.7" width="4.6" height="80.4" fill="#0b0bf0" stroke="#07078e" stroke-width="1.0"/>
<line x1="137.05" y1="686.2" x2="137.05" y2="710.3" stroke="#9a9a9a" stroke-width="1"/>
<line x1="135.65" y1="686.2" x2="138.45" y2="686.2" stroke="#9a9a9a" stroke-width="1"/>
<rect x="134.75" y="710.3" width="4.6" height="78.8" fill="#5a5af0" stroke="#38389a" stroke-width="1.0"/>
<rect x="142.13" y="786.6" width="4.6" height="2.5" fill="#c8c8fa" stroke="#8c8ca6" stroke-width="1.0"/>
<line x1="157.12" y1="782.7" x2="157.12" y2="783.9" stroke="#9a9a9a" stroke-width="1"/>
<line x1="155.72" y1="782.7" x2="158.52" y2="782.7" stroke="#9a9a9a" stroke-width="1"/>
<rect x="154.82" y="783.9" width="4.6" height="5.2" fill="#0d0d6e" stroke="#06063e" stroke-width="1.0"/>
<rect x="162.2" y="785.4" width="4.6" height="3.7" fill="#0b0bf0" stroke="#07078e" stroke-width="1.0"/>
<line x1="171.88" y1="782.8" x2="171.88" y2="784.2" stroke="#9a9a9a" stroke-width="1"/>
<line x1="170.48" y1="782.8" x2="173.28" y2="782.8" stroke="#9a9a9a" stroke-width="1"/>
<rect x="169.58" y="784.2" width="4.6" height="4.9" fill="#5a5af0" stroke="#38389a" stroke-width="1.0"/>
<line x1="179.26" y1="783.6" x2="179.26" y2="784.4" stroke="#9a9a9a" stroke-width="1"/>
<line x1="177.86" y1="783.6" x2="180.66" y2="783.6" stroke="#9a9a9a" stroke-width="1"/>
<rect x="176.96" y="784.4" width="4.6" height="4.7" fill="#c8c8fa" stroke="#8c8ca6" stroke-width="1.0"/>
<line x1="191.95" y1="648.7" x2="191.95" y2="662.9" stroke="#9a9a9a" stroke-width="1"/>
<line x1="190.55" y1="648.7" x2="193.35" y2="648.7" stroke="#9a9a9a" stroke-width="1"/>
<rect x="189.65" y="681.5" width="4.6" height="107.6" fill="#0d0d6e" stroke="#06063e" stroke-width="1.0"/>
<rect x="189.65" y="662.9" width="4.6" height="13.6" fill="#0d0d6e" stroke="#06063e" stroke-width="1.0"/>
<line x1="199.33" y1="642.5" x2="199.33" y2="657.2" stroke="#9a9a9a" stroke-width="1"/>
<line x1="197.93" y1="642.5" x2="200.73" y2="642.5" stroke="#9a9a9a" stroke-width="1"/>
<rect x="197.03" y="681.5" width="4.6" height="107.6" fill="#0b0bf0" stroke="#07078e" stroke-width="1.0"/>
<rect x="197.03" y="657.2" width="4.6" height="19.3" fill="#0b0bf0" stroke="#07078e" stroke-width="1.0"/>
<line x1="206.71" y1="639" x2="206.71" y2="646.3" stroke="#9a9a9a" stroke-width="1"/>
<line x1="205.31" y1="639" x2="208.11" y2="639" stroke="#9a9a9a" stroke-width="1"/>
<rect x="204.41" y="681.5" width="4.6" height="107.6" fill="#5a5af0" stroke="#38389a" stroke-width="1.0"/>
<rect x="204.41" y="646.3" width="4.6" height="30.2" fill="#5a5af0" stroke="#38389a" stroke-width="1.0"/>
<line x1="214.09" y1="590.4" x2="214.09" y2="620.2" stroke="#9a9a9a" stroke-width="1"/>
<line x1="212.69" y1="590.4" x2="215.49" y2="590.4" stroke="#9a9a9a" stroke-width="1"/>
<rect x="211.79" y="681.5" width="4.6" height="107.6" fill="#c8c8fa" stroke="#8c8ca6" stroke-width="1.0"/>
<rect x="211.79" y="620.2" width="4.6" height="56.3" fill="#c8c8fa" stroke="#8c8ca6" stroke-width="1.0"/>
<line x1="226.78" y1="770" x2="226.78" y2="773.9" stroke="#9a9a9a" stroke-width="1"/>
<line x1="225.38" y1="770" x2="228.18" y2="770" stroke="#9a9a9a" stroke-width="1"/>
<rect x="224.48" y="773.9" width="4.6" height="15.2" fill="#0d0d6e" stroke="#06063e" stroke-width="1.0"/>
<line x1="234.16" y1="763" x2="234.16" y2="768.3" stroke="#9a9a9a" stroke-width="1"/>
<line x1="232.76" y1="763" x2="235.56" y2="763" stroke="#9a9a9a" stroke-width="1"/>
<rect x="231.86" y="768.3" width="4.6" height="20.8" fill="#0b0bf0" stroke="#07078e" stroke-width="1.0"/>
<line x1="241.54" y1="762.5" x2="241.54" y2="768.3" stroke="#9a9a9a" stroke-width="1"/>
<line x1="240.14" y1="762.5" x2="242.94" y2="762.5" stroke="#9a9a9a" stroke-width="1"/>
<rect x="239.24" y="768.3" width="4.6" height="20.8" fill="#5a5af0" stroke="#38389a" stroke-width="1.0"/>
<line x1="248.92" y1="777" x2="248.92" y2="781.1" stroke="#9a9a9a" stroke-width="1"/>
<line x1="247.52" y1="777" x2="250.32" y2="777" stroke="#9a9a9a" stroke-width="1"/>
<rect x="246.62" y="781.1" width="4.6" height="8" fill="#c8c8fa" stroke="#8c8ca6" stroke-width="1.0"/>
<line x1="261.61" y1="782" x2="261.61" y2="783.5" stroke="#9a9a9a" stroke-width="1"/>
<line x1="260.21" y1="782" x2="263.01" y2="782" stroke="#9a9a9a" stroke-width="1"/>
<rect x="259.31" y="783.5" width="4.6" height="5.6" fill="#0d0d6e" stroke="#06063e" stroke-width="1.0"/>
<rect x="266.69" y="786.3" width="4.6" height="2.8" fill="#0b0bf0" stroke="#07078e" stroke-width="1.0"/>
<line x1="276.37" y1="781.6" x2="276.37" y2="783.5" stroke="#9a9a9a" stroke-width="1"/>
<line x1="274.97" y1="781.6" x2="277.77" y2="781.6" stroke="#9a9a9a" stroke-width="1"/>
<rect x="274.07" y="783.5" width="4.6" height="5.6" fill="#5a5af0" stroke="#38389a" stroke-width="1.0"/>
<rect x="281.45" y="787.9" width="4.6" height="1.2" fill="#c8c8fa" stroke="#8c8ca6" stroke-width="1.0"/>
<rect x="294.14" y="785.6" width="4.6" height="3.5" fill="#0d0d6e" stroke="#06063e" stroke-width="1.0"/>
<rect x="301.52" y="786.5" width="4.6" height="2.6" fill="#0b0bf0" stroke="#07078e" stroke-width="1.0"/>
<line x1="311.2" y1="783.8" x2="311.2" y2="784.6" stroke="#9a9a9a" stroke-width="1"/>
<line x1="309.8" y1="783.8" x2="312.6" y2="783.8" stroke="#9a9a9a" stroke-width="1"/>
<rect x="308.9" y="784.6" width="4.6" height="4.5" fill="#5a5af0" stroke="#38389a" stroke-width="1.0"/>
<rect x="316.28" y="788.2" width="4.6" height="0.9" fill="#c8c8fa" stroke="#8c8ca6" stroke-width="1.0"/>
<line x1="331.27" y1="778.1" x2="331.27" y2="780.4" stroke="#9a9a9a" stroke-width="1"/>
<line x1="329.87" y1="778.1" x2="332.67" y2="778.1" stroke="#9a9a9a" stroke-width="1"/>
<rect x="328.97" y="780.4" width="4.6" height="8.7" fill="#0d0d6e" stroke="#06063e" stroke-width="1.0"/>
<line x1="338.65" y1="780" x2="338.65" y2="782.1" stroke="#9a9a9a" stroke-width="1"/>
<line x1="337.25" y1="780" x2="340.05" y2="780" stroke="#9a9a9a" stroke-width="1"/>
<rect x="336.35" y="782.1" width="4.6" height="7" fill="#0b0bf0" stroke="#07078e" stroke-width="1.0"/>
<line x1="346.03" y1="778.8" x2="346.03" y2="781.1" stroke="#9a9a9a" stroke-width="1"/>
<line x1="344.63" y1="778.8" x2="347.43" y2="778.8" stroke="#9a9a9a" stroke-width="1"/>
<rect x="343.73" y="781.1" width="4.6" height="8" fill="#5a5af0" stroke="#38389a" stroke-width="1.0"/>
<line x1="353.41" y1="776.9" x2="353.41" y2="780.4" stroke="#9a9a9a" stroke-width="1"/>
<line x1="352.01" y1="776.9" x2="354.81" y2="776.9" stroke="#9a9a9a" stroke-width="1"/>
<rect x="351.11" y="780.4" width="4.6" height="8.7" fill="#c8c8fa" stroke="#8c8ca6" stroke-width="1.0"/>
<rect x="363.8" y="787.4" width="4.6" height="1.7" fill="#0d0d6e" stroke="#06063e" stroke-width="1.0"/>
<rect x="371.18" y="788" width="4.6" height="1.1" fill="#0b0bf0" stroke="#07078e" stroke-width="1.0"/>
<rect x="378.56" y="787.4" width="4.6" height="1.7" fill="#5a5af0" stroke="#38389a" stroke-width="1.0"/>
<rect x="385.94" y="787.8" width="4.6" height="1.3" fill="#c8c8fa" stroke="#8c8ca6" stroke-width="1.0"/>
<rect x="398.63" y="786.7" width="4.6" height="2.4" fill="#0d0d6e" stroke="#06063e" stroke-width="1.0"/>
<rect x="406.01" y="786.7" width="4.6" height="2.4" fill="#0b0bf0" stroke="#07078e" stroke-width="1.0"/>
<line x1="415.69" y1="782.8" x2="415.69" y2="785.1" stroke="#9a9a9a" stroke-width="1"/>
<line x1="414.29" y1="782.8" x2="417.09" y2="782.8" stroke="#9a9a9a" stroke-width="1"/>
<rect x="413.39" y="785.1" width="4.6" height="4" fill="#5a5af0" stroke="#38389a" stroke-width="1.0"/>
<rect x="420.77" y="785.8" width="4.6" height="3.3" fill="#c8c8fa" stroke="#8c8ca6" stroke-width="1.0"/>
<line x1="435.76" y1="763.7" x2="435.76" y2="767" stroke="#9a9a9a" stroke-width="1"/>
<line x1="434.36" y1="763.7" x2="437.16" y2="763.7" stroke="#9a9a9a" stroke-width="1"/>
<rect x="433.46" y="767" width="4.6" height="22.1" fill="#0d0d6e" stroke="#06063e" stroke-width="1.0"/>
<line x1="443.14" y1="768.1" x2="443.14" y2="768.9" stroke="#9a9a9a" stroke-width="1"/>
<line x1="441.74" y1="768.1" x2="444.54" y2="768.1" stroke="#9a9a9a" stroke-width="1"/>
<rect x="440.84" y="768.9" width="4.6" height="20.2" fill="#0b0bf0" stroke="#07078e" stroke-width="1.0"/>
<line x1="450.52" y1="755.2" x2="450.52" y2="761.2" stroke="#9a9a9a" stroke-width="1"/>
<line x1="449.12" y1="755.2" x2="451.92" y2="755.2" stroke="#9a9a9a" stroke-width="1"/>
<rect x="448.22" y="761.2" width="4.6" height="27.9" fill="#5a5af0" stroke="#38389a" stroke-width="1.0"/>
<line x1="457.9" y1="779.1" x2="457.9" y2="781.9" stroke="#9a9a9a" stroke-width="1"/>
<line x1="456.5" y1="779.1" x2="459.3" y2="779.1" stroke="#9a9a9a" stroke-width="1"/>
<rect x="455.6" y="781.9" width="4.6" height="7.2" fill="#c8c8fa" stroke="#8c8ca6" stroke-width="1.0"/>
<path d="M142.73 772.15L142.73 775.45M141.3 772.97L144.16 774.62M144.16 772.97L141.3 774.62" stroke="#111" stroke-width="1.4" stroke-linecap="round"/>
<path d="M148.13 772.15L148.13 775.45M146.7 772.97L149.56 774.62M149.56 772.97L146.7 774.62" stroke="#111" stroke-width="1.4" stroke-linecap="round"/>
<path d="M247.22 771.85L247.22 775.15M245.79 772.67L248.65 774.33M248.65 772.67L245.79 774.33" stroke="#111" stroke-width="1.4" stroke-linecap="round"/>
<path d="M252.62 771.85L252.62 775.15M251.19 772.67L254.05 774.33M254.05 772.67L251.19 774.33" stroke="#111" stroke-width="1.4" stroke-linecap="round"/>
<path d="M284.75 771.85L284.75 775.15M283.32 772.67L286.18 774.33M286.18 772.67L283.32 774.33" stroke="#111" stroke-width="1.4" stroke-linecap="round"/>
<path d="M319.58 771.85L319.58 775.15M318.15 772.67L321.01 774.33M321.01 772.67L318.15 774.33" stroke="#111" stroke-width="1.4" stroke-linecap="round"/>
<path d="M456.2 771.95L456.2 775.25M454.77 772.77L457.63 774.43M457.63 772.77L454.77 774.43" stroke="#111" stroke-width="1.4" stroke-linecap="round"/>
<path d="M461.6 771.95L461.6 775.25M460.17 772.77L463.03 774.43M463.03 772.77L460.17 774.43" stroke="#111" stroke-width="1.4" stroke-linecap="round"/>
<text x="194.6" y="575.8" class="tsup">68</text>
<text x="205" y="582.2" class="ti" style="font-size:12.75px">Ga-Ex4NOD40</text>
<rect x="281.8" y="621" width="9.4" height="12.6" fill="#0d0d6e" stroke="#06063e" stroke-width="0.8"/>
<text transform="translate(295.7 627.9) scale(0.96 1)" class="lsup">68</text>
<text transform="translate(306.3 632.8) scale(1.05 1)" class="lg" style="font-size:11.05px">Ga-Ex4NOD40 0.5h</text>
<rect x="281.8" y="635.55" width="9.4" height="12.6" fill="#0b0bf0" stroke="#07078e" stroke-width="0.8"/>
<text transform="translate(295.7 642.45) scale(0.96 1)" class="lsup">68</text>
<text transform="translate(306.3 647.35) scale(1.05 1)" class="lg" style="font-size:11.05px">Ga-Ex4NOD40 1h</text>
<rect x="281.8" y="650.1" width="9.4" height="12.6" fill="#5a5af0" stroke="#38389a" stroke-width="0.8"/>
<text transform="translate(295.7 657) scale(0.96 1)" class="lsup">68</text>
<text transform="translate(306.3 661.9) scale(1.05 1)" class="lg" style="font-size:11.05px">Ga-Ex4NOD40 2h</text>
<rect x="281.8" y="664.65" width="9.4" height="12.6" fill="#c8c8fa" stroke="#8c8ca6" stroke-width="0.8"/>
<text transform="translate(295.7 671.55) scale(0.96 1)" class="lsup">68</text>
<text transform="translate(306.3 676.45) scale(1.05 1)" class="lg" style="font-size:11.05px">Ga-Ex4NOD40 2h block</text>
<text x="13.7" y="676.6" text-anchor="middle" class="yl" transform="rotate(-90 13.7 676.6)">i.A./g [%]</text>
</svg>
</body></html>
